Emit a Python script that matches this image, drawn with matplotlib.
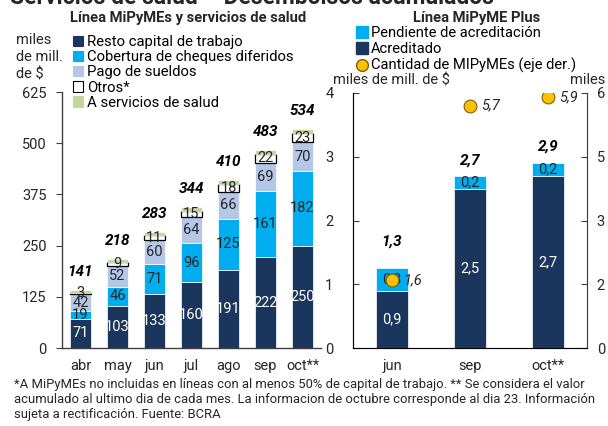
import matplotlib
matplotlib.use("Agg")
import matplotlib.pyplot as plt
from matplotlib.patches import Patch
from matplotlib.lines import Line2D
import numpy as np

plt.rcParams['font.family'] = ['Roboto', 'DejaVu Sans']

# ---- data: left panel ----
months = ["abr", "may", "jun", "jul", "ago", "sep", "oct**"]
resto = [71, 103, 133, 160, 191, 222, 250]
cobertura = [19, 46, 71, 96, 125, 161, 182]
sueldos = [42, 52, 60, 64, 66, 69, 70]
otros = [3, 9, 11, 15, 18, 22, 23]
salud = [6, 8, 8, 9, 10, 9, 9]
totales = [141, 218, 283, 344, 410, 483, 534]
left_yticks = [0, 125, 250, 375, 500, 625]

# ---- data: right panel ----
plus_months = ["jun", "sep", "oct**"]
acreditado = [0.9, 2.5, 2.7]
pendiente = [0.35, 0.2, 0.2]
pendiente_lbl = ["0,3", "0,2", "0,2"]
plus_total = ["1,3", "2,7", "2,9"]
cantidad = [1.6, 5.7, 5.9]
right_yticks = [0, 1, 2, 3, 4]
right2_yticks = [0, 1.5, 3, 4.5, 6]
right2_ylabels = ["0", "2", "3", "5", "6"]

NAVY = "#1b365d"
CYAN = "#00aeef"
LBLUE = "#b4c7e7"
GREEN = "#c4d79b"
GOLD = "#ffc000"
TXT = "#262626"
SPINE = "#404040"
FS = 10.5

fig = plt.figure(figsize=(6.08, 4.26), dpi=100)

# ---------------- left panel ----------------
ax = fig.add_axes([62/608, 1-348/426, 259/608, 256/426])
x = np.arange(len(months))
w = 0.57
b0 = np.zeros(len(months))
series = [(resto, NAVY, "white", "white", 0.5, "Resto capital de trabajo"),
          (cobertura, CYAN, "white", TXT, 0.5, "Cobertura de cheques diferidos"),
          (sueldos, LBLUE, "white", TXT, 0.5, "Pago de sueldos"),
          (otros, "white", "black", TXT, 0.9, "Otros*"),
          (salud, GREEN, "white", TXT, 0.5, "A servicios de salud")]
handles = []
for vals, col, ec, tc, lw, name in series:
    vals = np.array(vals, dtype=float)
    ax.bar(x, vals, w, bottom=b0, color=col, edgecolor=ec, linewidth=lw)
    if name != "A servicios de salud":
        for xi, bi, vi in zip(x, b0, vals):
            ax.text(xi, bi + vi/2, f"{int(vi)}", ha="center", va="center",
                    fontsize=FS, color=tc)
    handles.append(Patch(facecolor=col, edgecolor=("black" if col == "white" else col),
                         linewidth=0.8, label=name))
    b0 = b0 + vals
for xi, t in zip(x, totales):
    ax.annotate(f"{t}", (xi, t), xytext=(0, 13), textcoords="offset points",
                ha="center", va="center", fontsize=11, fontweight="bold",
                fontstyle="italic", color="black")
ax.set_xlim(-0.5, 6.5)
ax.set_ylim(0, 625)
ax.set_yticks(left_yticks)
ax.set_xticks(x)
ax.set_xticklabels(months)
ax.tick_params(axis="y", direction="out", length=4, colors=SPINE, labelcolor=TXT,
               labelsize=FS, pad=7)
ax.tick_params(axis="x", length=0, labelcolor=TXT, labelsize=FS, pad=8)
for s in ["top", "right"]:
    ax.spines[s].set_visible(False)
for s in ["left", "bottom"]:
    ax.spines[s].set_color(SPINE)
    ax.spines[s].set_linewidth(1.0)

fig.legend(handles=handles, loc="upper left", bbox_to_anchor=(73/608, 1-35/426),
           frameon=False, fontsize=10.7, handlelength=0.7, handleheight=0.7,
           handletextpad=0.25, labelspacing=0.08, borderaxespad=0, borderpad=0)
fig.text(16/608, 1-57/426, "miles\nde mill.\nde $", ha="left", va="center",
         fontsize=FS, color=TXT, linespacing=1.3)
fig.text(188/608, 1-18/426, "Línea MiPyMEs y servicios de salud", ha="center",
         va="center", fontsize=10.6, fontweight="bold", color=TXT)

# ---------------- right panel ----------------
ax2 = fig.add_axes([353/608, 1-348/426, 234/608, 255/426])
xp = np.arange(len(plus_months))
wp = 0.4
ax2.bar(xp, acreditado, wp, color=NAVY, edgecolor="white", linewidth=0.5)
ax2.bar(xp, pendiente, wp, bottom=acreditado, color=CYAN, edgecolor="white", linewidth=0.5)
for xi, a, p, pl in zip(xp, acreditado, pendiente, pendiente_lbl):
    ax2.text(xi, a/2, f"{a:.1f}".replace(".", ","), ha="center", va="center",
             fontsize=FS, color="white")
    ax2.text(xi, a + p/2, pl, ha="center", va="center", fontsize=FS, color=TXT)
offs = [19, 11, 12]
for xi, a, p, t, o in zip(xp, acreditado, pendiente, plus_total, offs):
    ax2.annotate(t, (xi, a + p), xytext=(0, o), textcoords="offset points",
                 ha="center", va="center", fontsize=11, fontweight="bold",
                 fontstyle="italic", color="black")
ax2.set_xlim(-0.5, 2.5)
ax2.set_ylim(0, 4)
ax2.set_yticks(right_yticks)
ax2.set_xticks(xp)
ax2.set_xticklabels(plus_months)
ax2.tick_params(axis="y", direction="in", length=4, colors=SPINE, labelcolor=TXT,
                labelsize=FS, pad=14)
ax2.tick_params(axis="x", length=0, labelcolor=TXT, labelsize=FS, pad=8)
ax2.spines["top"].set_visible(False)
for s in ["left", "bottom", "right"]:
    ax2.spines[s].set_color(SPINE)

ax3 = ax2.twinx()
ax3.set_ylim(0, 6)
ax3.set_yticks(right2_yticks)
ax3.set_yticklabels(right2_ylabels)
ax3.tick_params(axis="y", direction="in", length=4, colors=SPINE, labelcolor=TXT,
                labelsize=FS, pad=7)
ax3.spines["top"].set_visible(False)
ax3.spines["right"].set_color(SPINE)
ax3.scatter(xp, cantidad, s=85, color=GOLD, edgecolor="#7f6000", linewidth=0.8, zorder=5)
for xi, c in zip(xp, cantidad):
    ax3.annotate(f"{c:.1f}".replace(".", ","), (xi, c), xytext=(8, 0),
                 textcoords="offset points", ha="left", va="center",
                 fontsize=FS, fontstyle="italic", color=TXT)

h2 = [Line2D([], [], marker="s", linestyle="none", markersize=8, color=CYAN,
             label="Pendiente de acreditación"),
      Line2D([], [], marker="s", linestyle="none", markersize=8, color=NAVY,
             label="Acreditado"),
      Line2D([], [], marker="o", linestyle="none", markersize=8.5, markerfacecolor=GOLD,
             markeredgecolor="#7f6000", label="Cantidad de MIPyMEs (eje der.)")]
fig.legend(handles=h2, loc="upper left", bbox_to_anchor=(356/608, 1-26/426),
           frameon=False, fontsize=10.6, handlelength=0.75, handletextpad=0.25,
           labelspacing=0.13, borderaxespad=0, borderpad=0)
fig.text(477/608, 1-18/426, "Línea MiPyME Plus", ha="center", va="center",
         fontsize=10.6, fontweight="bold", color=TXT)
fig.text(333/608, 1-80/426, "miles de mill. de $", ha="left", va="center",
         fontsize=FS, color=TXT)
fig.text(605/608, 1-80/426, "miles", ha="right", va="center", fontsize=FS, color=TXT)

# ---------------- titles / footnote ----------------
fig.text(10/608, 1-4/426, "Servicios de salud – Desembolsos acumulados",
         ha="left", va="baseline", fontsize=16.5, fontweight="bold", color=TXT)
fig.text(14/608, 1-378/426,
         "*A MiPyMEs no incluidas en líneas con al menos 50% de capital de trabajo. ** Se considera el valor\n"
         "acumulado al ultimo dia de cada mes. La informacion de octubre corresponde al dia 23. Información\n"
         "sujeta a rectificación. Fuente: BCRA",
         ha="left", va="top", fontsize=9.4, color=TXT, linespacing=1.22)

fig.savefig("out.png", dpi=100)
